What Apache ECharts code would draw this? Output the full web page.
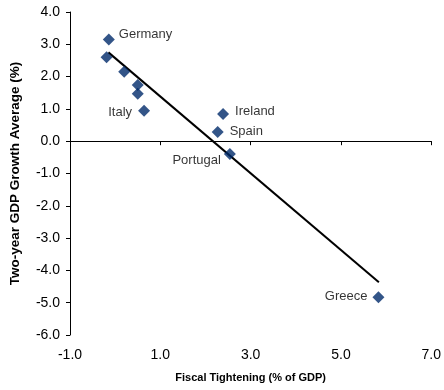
<!DOCTYPE html>
<html>
<head>
<meta charset="utf-8">
<script src="https://cdn.jsdelivr.net/npm/echarts@6/dist/echarts.min.js"></script>
<style>
html,body{margin:0;padding:0;background:#fff;}
#c{width:444px;height:390px;}
</style>
</head>
<body>
<div id="c"></div>
<script>
// Data
var pointNames = ['Germany', '', '', '', '', 'Italy', 'Ireland', 'Spain', 'Portugal', 'Greece'];
var fiscalTightening = [-0.14, -0.19, 0.20, 0.50, 0.50, 0.64, 2.39, 2.27, 2.54, 5.83];
var gdpGrowth = [3.15, 2.60, 2.15, 1.74, 1.47, 0.94, 0.84, 0.285, -0.40, -4.83];
var trendX = [-0.15, 5.84];
var trendY = [2.75, -4.37];
var xTicks = [-1, 1, 3, 5, 7];
var yTicks = [-6, -5, -4, -3, -2, -1, 0, 1, 2, 3, 4];

// Label placement (style)
var labelStyle = {
  'Germany': {position: 'right', distance: 4, offset: [0, -5]},
  'Italy': {position: 'left', distance: 6, offset: [0, 2]},
  'Ireland': {position: 'right', distance: 6, offset: [0, -3]},
  'Spain': {position: 'right', distance: 6, offset: [0, -1]},
  'Portugal': {position: 'left', distance: 3, offset: [0, 6]},
  'Greece': {position: 'left', distance: 5, offset: [0, -1]}
};

var FONT = "'Liberation Sans', Arial, sans-serif";
var fmt = function (v) { return v.toFixed(1); };

var scatterData = fiscalTightening.map(function (x, i) {
  var item = {value: [x, gdpGrowth[i]], name: pointNames[i]};
  var ls = labelStyle[pointNames[i]];
  if (ls) {
    item.label = {show: true, position: ls.position, distance: ls.distance, offset: ls.offset,
      formatter: pointNames[i], color: '#000', fontSize: 13, fontFamily: FONT};
  }
  return item;
});

var chart = echarts.init(document.getElementById('c'), null, {renderer: 'canvas'});
chart.setOption({
  animation: false,
  backgroundColor: '#fff',
  grid: {left: 69.5, right: 8, top: 12, bottom: 55, containLabel: false},
  xAxis: [
    {
      type: 'value', position: 'top', min: xTicks[0], max: xTicks[xTicks.length - 1], interval: 2,
      axisLine: {show: true, onZero: true, lineStyle: {color: '#000', width: 1}},
      axisTick: {show: true, inside: true, length: 4, lineStyle: {color: '#000'}},
      axisLabel: {show: false},
      splitLine: {show: false}
    },
    {
      type: 'value', position: 'bottom', min: xTicks[0], max: xTicks[xTicks.length - 1], interval: 2,
      axisLine: {show: false, onZero: false},
      axisTick: {show: false},
      axisLabel: {show: true, margin: 13, formatter: fmt, color: '#000', fontSize: 14, fontFamily: FONT},
      splitLine: {show: false},
      name: 'Fiscal Tightening (% of GDP)', nameLocation: 'middle', nameGap: 37,
      nameTextStyle: {color: '#000', fontSize: 11, fontWeight: 'bold', fontFamily: FONT}
    }
  ],
  yAxis: {
    type: 'value', position: 'left', min: yTicks[0], max: yTicks[yTicks.length - 1], interval: 1,
    axisLine: {show: true, onZero: false, lineStyle: {color: '#000', width: 1}},
    axisTick: {show: true, inside: false, length: 4, lineStyle: {color: '#000'}},
    axisLabel: {show: true, margin: 10, formatter: fmt, color: '#000', fontSize: 14, fontFamily: FONT},
    splitLine: {show: false},
    name: 'Two-year GDP Growth Average (%)', nameLocation: 'middle', nameGap: 48,
    nameTextStyle: {color: '#000', fontSize: 13.5, fontWeight: 'bold', fontFamily: FONT}
  },
  series: [
    {
      type: 'line', xAxisIndex: 0, yAxisIndex: 0,
      data: trendX.map(function (x, i) { return [x, trendY[i]]; }),
      symbol: 'none', lineStyle: {color: '#000', width: 2}, z: 3
    },
    {
      type: 'scatter', xAxisIndex: 0, yAxisIndex: 0,
      data: scatterData, symbol: 'diamond', symbolSize: 12,
      itemStyle: {color: '#002a6a'}, z: 4
    }
  ]
});
</script>
</body>
</html>
